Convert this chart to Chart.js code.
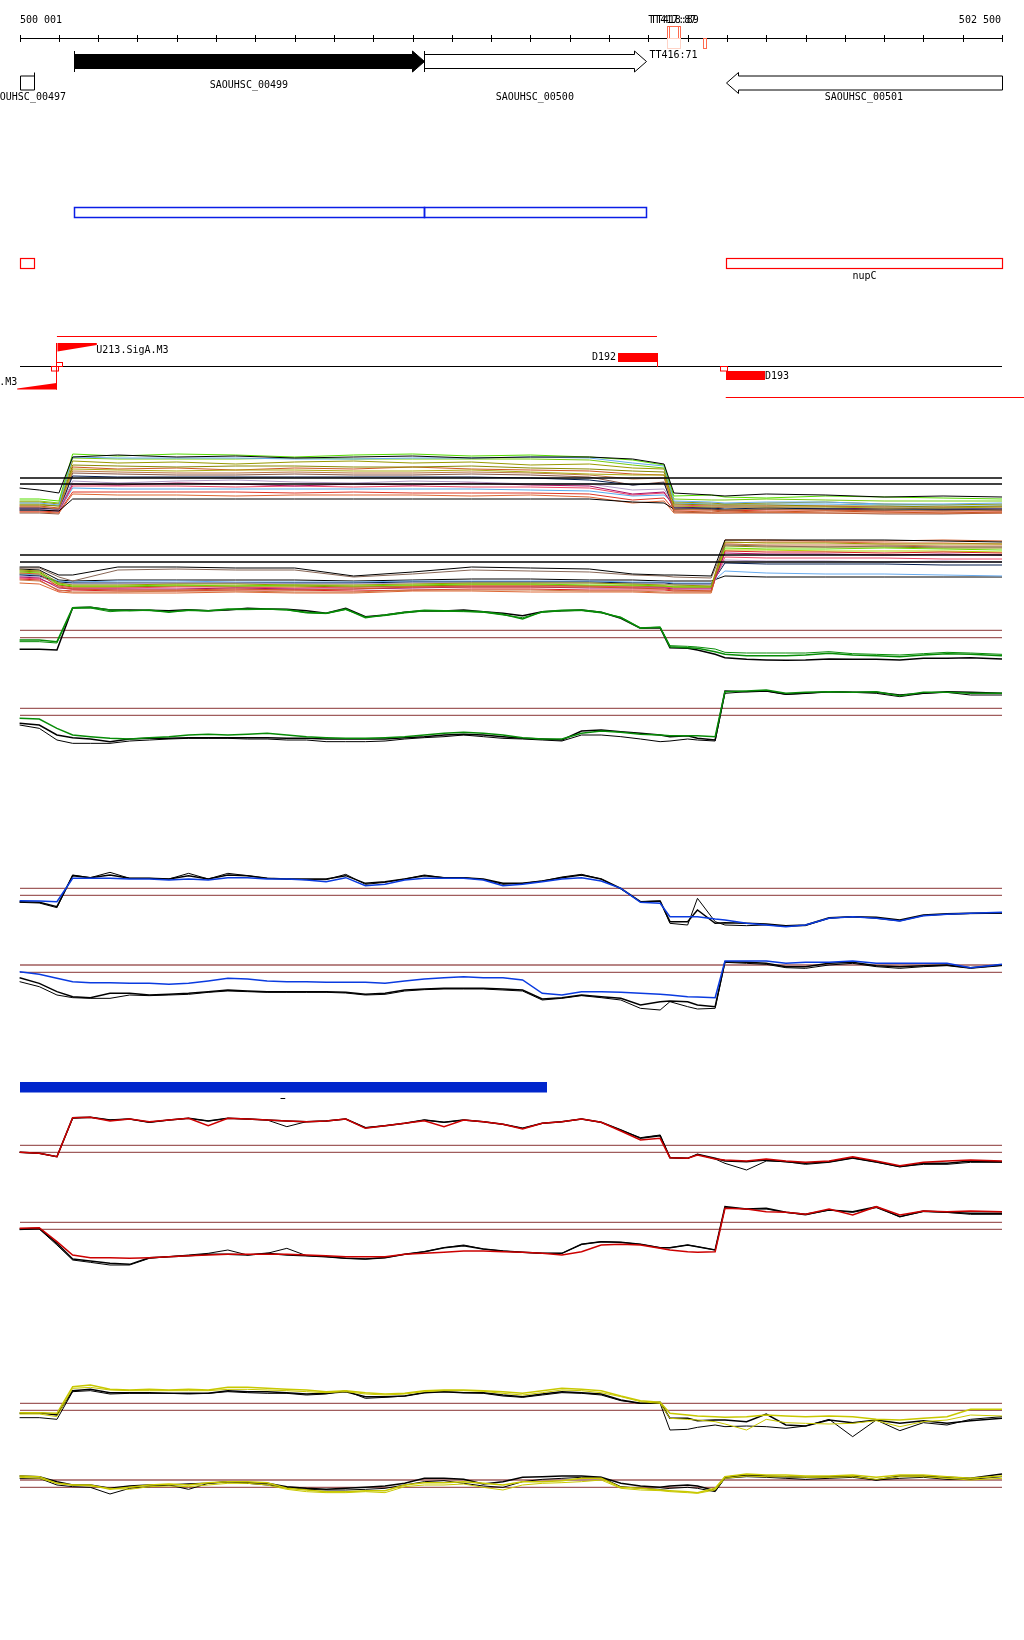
<!DOCTYPE html>
<html>
<head>
<meta charset="utf-8">
<script src="https://cdn.jsdelivr.net/npm/chart.js@4.4.1/dist/chart.umd.min.js"></script>
<style>
  html, body { margin: 0; padding: 0; background: #fff; }
  #wrap { width: 1024px; height: 1640px; }
</style>
</head>
<body>
<div id="wrap"><canvas id="browser" width="1024" height="1640"></canvas></div>
<script>
// ---- view window (bp) ----
const VIEW_START = 500001;
const VIEW_END = 502500;
const rulerStep = 100;

// ---- annotation data ----
const geneNames   = ['SAOUHSC_00497', 'SAOUHSC_00499', 'SAOUHSC_00500', 'SAOUHSC_00501'];
const geneStarts  = [499900, 500138, 501029, 501797];
const geneEnds    = [500036, 501029, 501593, 502700];
const geneStrands = ['-', '+', '+', '-'];
const geneFilled  = [false, true, false, false];
const geneLabelRow = [1, 0, 1, 1];

const termNames   = ['TT417:87', 'TT418:89', 'TT416:71', ''];
const termStarts  = [501647, 501653, 501647, 501738];
const termEnds    = [501675, 501681, 501681, 501748];
const termStrands = ['+', '+', '-', '-'];
const termScores  = [87, 89, 71, 80];

const operonStarts = [500138, 501029];
const operonEnds   = [501029, 501593];

const regulonNames  = ['', 'nupC'];
const regulonStarts = [499900, 501797];
const regulonEnds   = [500036, 502700];

const transcriptStarts  = [500095, 501797];
const transcriptEnds    = [501622, 502700];
const transcriptStrands = ['+', '-'];

const promoterNames   = ['U213.SigA.M3', 'U212.SigA.M3'];
const promoterPos     = [500092, 500092];
const promoterStrands = ['+', '-'];
const promoterLen = 100;

const tssNames   = ['D192', 'D193'];
const tssStarts  = [501523, 501797];
const tssEnds    = [501622, 501897];
const tssStrands = ['+', '-'];

const segmentStarts = [500001];
const segmentEnds   = [501341];
const markStarts = [500664];
const markEnds   = [500676];

// ---- multi-sample tracks (coarse probes) ----
const multiPos = [500000, 500050, 500100, 500135, 500250, 500400, 500550, 500700, 500850, 501000, 501150, 501300,
                  501450, 501560, 501640, 501665, 501760, 501795, 501900, 502050, 502200, 502350, 502500];

const fwdSamples = [
  [27, 25, 22, 58, 60, 58, 59, 57, 58, 59, 57, 58, 58, 56, 51, 22, 20, 19, 21, 20, 18, 19, 18],
  [16, 16, 14, 61, 59, 61, 60, 58, 60, 61, 59, 60, 58, 55, 50, 19, 20, 18, 17, 19, 18, 17, 16],
  [12, 12, 10, 58, 57, 57, 57, 56, 56, 57, 57, 58, 57, 52, 49, 14, 13, 12, 13, 13, 11, 11, 12],
  [13, 13, 11, 54, 52, 53, 51, 53, 54, 52, 53, 50, 51, 47, 46, 13, 12, 11, 12, 13, 11, 10, 11],
  [10, 10, 9, 50, 49, 48, 49, 49, 48, 48, 49, 47, 46, 44, 43, 11, 10, 10, 10, 9, 9, 8, 9],
  [11, 11, 9, 46, 45, 44, 45, 45, 44, 44, 45, 43, 41, 40, 40, 9, 8, 8, 8, 8, 7, 7, 8],
  [9, 9, 7, 48, 46, 47, 45, 47, 46, 48, 46, 45, 44, 41, 40, 4, 3, 4, 3, 4, 3, 2, 3],
  [8, 8, 6, 44, 43, 42, 42, 43, 42, 42, 43, 42, 40, 36, 37, 6, 5, 5, 6, 5, 5, 4, 5],
  [7, 7, 6, 39, 38, 38, 38, 38, 38, 38, 38, 37, 35, 30, 32, 7, 7, 6, 7, 6, 6, 6, 6],
  [5, 5, 4, 16, 16, 16, 16, 16, 16, 16, 16, 16, 16, 13, 12, 6, 6, 5, 6, 6, 5, 5, 5],
  [6, 6, 5, 34, 32, 34, 35, 33, 32, 34, 33, 31, 31, 25, 26, 9, 8, 9, 8, 7, 8, 7, 7],
  [7, 7, 5, 31, 30, 32, 31, 29, 31, 30, 32, 30, 29, 21, 23, 8, 7, 8, 8, 6, 7, 6, 6],
  [6, 6, 4, 29, 29, 29, 28, 29, 28, 29, 28, 28, 27, 20, 22, 10, 9, 9, 9, 9, 8, 8, 8],
  [5, 5, 4, 27, 26, 26, 26, 26, 26, 26, 26, 25, 24, 19, 20, 12, 11, 11, 11, 11, 10, 10, 10],
  [4, 4, 3, 23, 23, 23, 23, 22, 23, 22, 22, 22, 21, 15, 17, 5, 5, 4, 5, 5, 4, 4, 4],
  [3, 3, 2, 21, 20, 20, 19, 20, 20, 20, 19, 20, 18, 12, 14, 2, 2, 2, 3, 2, 2, 2, 2],
  [2, 2, 1, 42, 41, 40, 40, 41, 40, 40, 41, 40, 38, 30, 33, 3, 2, 2, 2, 2, 1, 1, 2],
  [14, 14, 12, 57, 56, 56, 56, 57, 56, 56, 56, 56, 55, 50, 47, 16, 15, 15, 16, 15, 14, 14, 14]
];
const fwdColors = ['#000000', '#55dd00', '#66aaee', '#999900', '#888800', '#aaaa11', '#cc5522', '#bb7744', '#001a4d',
                   '#000000', '#b09cc8', '#aa1166', '#ee4466', '#55aaee', '#dd3322', '#dd6633', '#885544', '#77cc11'];
const fwdCutoffs = [37, 31];

const revSamples = [
  [28, 28, 20, 20, 28, 28, 27, 27, 19, 23, 28, 27, 26, 21, 20, 20, 19, 55, 55, 55, 55, 54, 53],
  [27, 27, 18, 14, 25, 26, 25, 25, 18, 21, 25, 24, 23, 20, 19, 18, 17, 50, 49, 48, 49, 48, 48],
  [25, 24, 12, 10, 10, 11, 11, 10, 10, 11, 12, 12, 12, 11, 10, 10, 9, 53, 52, 52, 51, 51, 51],
  [22, 21, 8, 6, 5, 5, 6, 5, 6, 8, 8, 8, 8, 7, 6, 5, 4, 55, 55, 54, 54, 55, 54],
  [23, 22, 11, 9, 9, 10, 9, 10, 9, 10, 11, 11, 10, 10, 9, 8, 8, 47, 46, 46, 47, 46, 45],
  [18, 17, 7, 6, 6, 6, 7, 6, 6, 7, 8, 8, 7, 7, 7, 6, 6, 42, 41, 41, 40, 41, 40],
  [17, 16, 9, 7, 7, 8, 8, 7, 8, 8, 9, 9, 9, 8, 8, 7, 7, 38, 37, 37, 37, 36, 36],
  [19, 18, 12, 11, 11, 12, 12, 11, 11, 12, 12, 12, 12, 11, 11, 10, 10, 35, 34, 34, 33, 34, 33],
  [20, 19, 13, 12, 12, 12, 12, 12, 12, 13, 13, 13, 13, 12, 12, 11, 11, 32, 31, 31, 31, 30, 30],
  [21, 20, 14, 13, 14, 14, 13, 13, 13, 14, 14, 14, 14, 13, 13, 12, 12, 24, 22, 21, 21, 20, 19],
  [15, 14, 5, 3, 3, 4, 4, 3, 3, 5, 5, 5, 4, 4, 3, 3, 3, 51, 50, 50, 50, 49, 49],
  [16, 15, 4, 5, 4, 4, 5, 5, 4, 5, 6, 6, 5, 5, 5, 4, 4, 44, 43, 43, 42, 43, 42],
  [24, 23, 10, 8, 8, 9, 9, 9, 8, 9, 10, 10, 9, 9, 8, 8, 8, 49, 48, 48, 48, 47, 47],
  [26, 25, 15, 14, 15, 15, 15, 15, 14, 15, 16, 16, 15, 15, 14, 14, 14, 19, 18, 18, 18, 18, 18],
  [21, 20, 10, 8, 8, 9, 8, 8, 8, 9, 10, 10, 9, 9, 9, 8, 8, 45, 45, 44, 44, 44, 43],
  [12, 11, 3, 2, 2, 2, 3, 2, 2, 4, 4, 3, 3, 3, 2, 2, 2, 52, 53, 53, 52, 52, 51]
];
const revColors = ['#000000', '#886655', '#999900', '#cc5522', '#66dd00', '#aa1166', '#ee4466', '#b09cc8',
                   '#001a4d', '#66aaee', '#cc7744', '#dd2222', '#888800', '#000000', '#bbcc00', '#dd6633'];
const revCutoffs = [40, 33];

// ---- single-condition tracks (probe positions shared) ----
const probePos = [500000, 500050, 500095, 500135, 500180, 500230, 500280, 500330, 500380, 500430, 500480, 500530,
                  500580, 500630, 500680, 500730, 500780, 500830, 500880, 500930, 500980, 501030, 501080, 501130,
                  501180, 501230, 501280, 501330, 501380, 501430, 501480, 501530, 501580, 501630, 501655, 501700,
                  501725, 501770, 501795, 501850, 501900, 501950, 502000, 502060, 502120, 502180, 502240, 502300,
                  502360, 502420, 502500];

// condition 1 (green)
const c1FwdRef   = [77, 77, 75, 202, 203, 195, 195, 194, 193, 196, 193, 195, 200, 198, 197, 193, 185, 200, 175, 180, 188, 193, 192, 195, 190, 185, 178, 190, 193, 195, 188, 170, 140, 142, 82, 80, 75, 62, 52, 47, 45, 44, 45, 48, 47, 47, 45, 50, 50, 52, 48];
const c1FwdA     = [105, 105, 100, 202, 203, 195, 193, 195, 188, 195, 193, 198, 198, 198, 196, 188, 185, 198, 172, 180, 188, 194, 193, 192, 190, 182, 168, 190, 194, 195, 188, 172, 140, 143, 85, 82, 80, 70, 62, 58, 58, 58, 60, 65, 60, 58, 55, 60, 64, 62, 58];
const c1FwdB     = [100, 100, 96, 200, 201, 190, 194, 193, 190, 193, 192, 196, 196, 197, 195, 186, 184, 196, 174, 178, 186, 192, 191, 190, 188, 180, 172, 188, 192, 193, 186, 174, 142, 144, 88, 86, 84, 78, 68, 66, 66, 66, 66, 70, 64, 62, 60, 64, 68, 66, 62];
const c1FwdCutoffs = [134, 112];
const c1RevA     = [100, 98, 70, 50, 45, 40, 38, 42, 45, 50, 52, 50, 52, 55, 50, 45, 42, 40, 40, 42, 45, 50, 55, 58, 55, 50, 42, 38, 38, 55, 62, 58, 52, 50, 48, 48, 48, 45, 180, 182, 185, 175, 178, 180, 178, 180, 168, 178, 178, 175, 175];
const c1RevRef   = [85, 80, 50, 42, 38, 30, 38, 40, 40, 42, 42, 42, 42, 42, 40, 40, 38, 38, 38, 38, 42, 45, 50, 52, 50, 45, 40, 38, 35, 62, 65, 60, 55, 50, 45, 48, 40, 35, 182, 180, 182, 172, 175, 180, 178, 178, 170, 175, 180, 178, 175];
const c1RevRef2  = [80, 70, 35, 25, 25, 25, 32, 35, 38, 40, 40, 40, 38, 38, 35, 35, 30, 30, 30, 32, 38, 42, 45, 50, 45, 40, 38, 35, 32, 50, 50, 45, 38, 30, 32, 38, 35, 32, 175, 180, 182, 172, 175, 180, 178, 175, 165, 175, 178, 170, 170];
const c1RevCutoffs = [130, 109];

// condition 2 (blue)
const c2FwdRef   = [100, 98, 85, 178, 172, 180, 170, 170, 168, 178, 168, 180, 178, 170, 168, 168, 168, 178, 155, 160, 168, 178, 172, 172, 168, 155, 155, 162, 172, 180, 168, 140, 100, 102, 40, 40, 75, 35, 37, 35, 33, 28, 30, 52, 55, 53, 45, 60, 64, 65, 67];
const c2FwdA     = [103, 102, 100, 170, 170, 170, 168, 168, 165, 168, 165, 172, 172, 168, 168, 165, 160, 172, 148, 152, 165, 170, 170, 170, 165, 148, 152, 160, 168, 172, 162, 140, 98, 95, 55, 55, 55, 48, 45, 35, 30, 25, 30, 50, 55, 50, 42, 58, 62, 65, 68];
const c2FwdRef2  = [98, 96, 82, 180, 172, 188, 170, 170, 168, 185, 168, 185, 178, 170, 168, 166, 166, 182, 152, 158, 168, 180, 172, 172, 166, 152, 155, 162, 174, 182, 168, 138, 100, 102, 35, 30, 110, 40, 30, 28, 30, 26, 28, 50, 55, 50, 42, 58, 62, 64, 65];
const c2FwdCutoffs = [140, 119];
const c2RevA     = [130, 122, 110, 100, 97, 97, 95, 95, 92, 95, 102, 110, 108, 102, 100, 100, 98, 98, 98, 95, 102, 108, 112, 115, 112, 112, 105, 65, 60, 70, 70, 68, 65, 62, 60, 55, 54, 52, 162, 162, 162, 155, 158, 158, 162, 155, 155, 155, 155, 142, 152];
const c2RevRef   = [112, 95, 70, 55, 52, 65, 65, 60, 62, 65, 70, 75, 72, 70, 70, 70, 70, 68, 62, 65, 75, 78, 80, 80, 80, 78, 75, 48, 52, 60, 55, 50, 30, 40, 42, 40, 30, 25, 160, 158, 155, 145, 145, 155, 158, 148, 145, 148, 150, 142, 150];
const c2RevRef2  = [100, 85, 60, 52, 50, 50, 60, 58, 60, 62, 68, 72, 70, 68, 68, 68, 68, 66, 60, 62, 72, 76, 78, 78, 78, 75, 72, 45, 50, 58, 52, 45, 20, 15, 40, 25, 18, 20, 158, 155, 152, 142, 140, 150, 155, 145, 140, 145, 148, 140, 148];
const c2RevCutoffs = [150, 128];

// condition 3 (red)
const c3FwdRef   = [98, 95, 85, 202, 203, 195, 198, 188, 195, 200, 192, 200, 198, 195, 192, 190, 192, 198, 172, 178, 185, 195, 188, 195, 190, 182, 170, 185, 190, 198, 188, 165, 140, 148, 82, 80, 92, 80, 72, 70, 75, 70, 65, 70, 82, 70, 55, 65, 65, 72, 70];
const c3FwdA     = [98, 95, 85, 202, 203, 192, 198, 190, 195, 200, 178, 200, 198, 195, 192, 190, 192, 198, 170, 178, 185, 193, 175, 195, 190, 182, 168, 185, 190, 198, 188, 162, 135, 140, 82, 80, 90, 78, 75, 72, 78, 72, 68, 72, 85, 72, 58, 68, 72, 75, 72];
const c3FwdRef2  = [98, 95, 85, 200, 203, 195, 198, 188, 195, 200, 192, 200, 198, 195, 175, 190, 192, 198, 172, 178, 185, 195, 188, 195, 190, 182, 170, 185, 190, 198, 188, 165, 142, 150, 82, 80, 92, 78, 65, 45, 72, 70, 62, 68, 80, 68, 55, 62, 62, 68, 68];
const c3FwdCutoffs = [119, 98];
const c3RevA     = [130, 132, 90, 50, 42, 42, 40, 42, 45, 48, 50, 52, 52, 52, 52, 50, 48, 45, 45, 45, 52, 55, 58, 62, 62, 60, 58, 55, 50, 60, 80, 82, 80, 70, 65, 60, 58, 60, 190, 188, 180, 178, 172, 188, 170, 195, 170, 182, 180, 182, 180];
const c3RevRef   = [128, 130, 85, 38, 32, 25, 22, 42, 45, 48, 52, 52, 50, 55, 50, 48, 45, 40, 38, 42, 52, 60, 72, 78, 68, 62, 58, 55, 55, 82, 90, 88, 82, 72, 72, 80, 75, 65, 195, 188, 190, 178, 172, 185, 180, 195, 165, 182, 178, 175, 175];
const c3RevRef2  = [126, 128, 80, 35, 28, 20, 20, 40, 45, 50, 55, 65, 50, 55, 70, 48, 45, 40, 38, 42, 52, 60, 72, 80, 68, 62, 58, 55, 55, 82, 90, 88, 82, 72, 72, 80, 75, 65, 192, 188, 188, 178, 170, 185, 178, 192, 165, 180, 178, 172, 172];
const c3RevCutoffs = [148, 127];

// condition 4 (yellow)
const c4FwdA     = [112, 112, 110, 190, 195, 182, 180, 182, 180, 182, 180, 188, 188, 185, 182, 180, 175, 178, 172, 168, 170, 178, 180, 180, 178, 175, 170, 178, 185, 182, 178, 162, 148, 143, 110, 105, 102, 100, 98, 100, 105, 102, 100, 102, 100, 92, 90, 95, 100, 122, 122];
const c4FwdB     = [108, 108, 100, 185, 188, 180, 178, 178, 178, 178, 178, 182, 182, 180, 178, 175, 172, 175, 168, 165, 168, 175, 178, 178, 176, 170, 165, 172, 180, 178, 172, 160, 145, 140, 95, 92, 90, 85, 78, 60, 92, 82, 80, 78, 80, 88, 70, 85, 90, 105, 102];
const c4FwdRef   = [110, 112, 105, 178, 182, 172, 172, 172, 170, 170, 170, 178, 175, 175, 172, 168, 170, 175, 160, 160, 162, 172, 175, 172, 172, 165, 160, 168, 175, 172, 168, 150, 140, 143, 95, 95, 88, 90, 90, 85, 108, 75, 72, 90, 82, 90, 80, 88, 80, 88, 95];
const c4FwdRef2  = [97, 97, 92, 175, 178, 168, 170, 170, 170, 168, 170, 175, 172, 170, 170, 165, 168, 178, 155, 158, 162, 172, 175, 172, 170, 162, 158, 165, 172, 170, 165, 148, 140, 140, 60, 62, 68, 75, 70, 72, 70, 65, 72, 92, 40, 90, 58, 82, 75, 92, 100];
const c4FwdCutoffs = [140, 119];
const c4RevA     = [82, 80, 60, 55, 55, 42, 48, 55, 58, 55, 62, 65, 65, 62, 45, 40, 35, 35, 38, 38, 55, 62, 62, 65, 60, 55, 65, 65, 68, 75, 75, 48, 45, 40, 38, 35, 32, 45, 80, 88, 85, 85, 82, 82, 85, 78, 85, 85, 80, 75, 82];
const c4RevB     = [78, 75, 60, 55, 52, 45, 42, 50, 52, 50, 55, 60, 60, 55, 42, 35, 32, 32, 35, 32, 50, 55, 55, 58, 48, 40, 55, 60, 62, 65, 70, 45, 40, 38, 35, 32, 30, 40, 75, 82, 80, 80, 78, 78, 80, 72, 80, 80, 75, 70, 75];
const c4RevRef   = [82, 80, 65, 55, 55, 45, 52, 55, 55, 58, 60, 65, 62, 60, 50, 45, 42, 45, 48, 52, 60, 75, 75, 72, 58, 65, 78, 80, 82, 82, 78, 60, 52, 48, 52, 55, 52, 38, 78, 85, 82, 80, 78, 80, 82, 70, 82, 82, 78, 75, 88];
const c4RevRef2  = [75, 75, 55, 50, 48, 28, 45, 50, 55, 42, 60, 65, 60, 55, 48, 42, 40, 40, 42, 45, 55, 65, 68, 60, 52, 48, 65, 72, 75, 78, 78, 50, 45, 42, 45, 48, 45, 35, 75, 80, 78, 75, 72, 75, 78, 70, 75, 78, 72, 72, 80];
const c4RevCutoffs = [70, 48];

// ---- layout ----
const W = 1024, H = 1640;
const PLOT_LEFT = 20, PLOT_RIGHT = 1002;
const bpPerPx = (VIEW_END - VIEW_START) / (PLOT_RIGHT - PLOT_LEFT);
const FONT = '10px "DejaVu Sans Mono", "Liberation Mono", monospace';
const CUTOFF_COLOR = '#a05c5c';

// each track gets its own hidden y axis: value 0 sits at zeroPx, unitsPerPx values per pixel
function trackAxis(zeroPx, unitsPerPx) {
  return { type: 'linear', display: false, min: -(H - zeroPx) * unitsPerPx, max: zeroPx * unitsPerPx };
}

function line(xs, ys, axis, color, width) {
  return {
    data: xs.map((x, i) => ({ x: x, y: ys[i] })),
    yAxisID: axis, borderColor: color, borderWidth: width,
    pointRadius: 0, fill: false, tension: 0
  };
}
function cutoffs(values, axis, color, width) {
  return values.map(v => line([VIEW_START, VIEW_END], [v, v], axis, color, width));
}

const datasets = [];
// multi-sample tracks (cutoff lines on top)
datasets.push(...cutoffs(fwdCutoffs, 'yA', '#000000', 1.5));
fwdSamples.forEach((s, i) => datasets.push(line(multiPos, s, 'yA', fwdColors[i], 1)));
datasets.push(...cutoffs(revCutoffs, 'yB', '#000000', 1.5));
revSamples.forEach((s, i) => datasets.push(line(multiPos, s, 'yB', revColors[i], 1)));

const GREEN = '#078c07', BLUE = '#0a3be0', RED = '#cc0000', YELLOW = '#c8c800';
datasets.push(
  line(probePos, c1FwdA, 'yC1', GREEN, 1.5), line(probePos, c1FwdB, 'yC1', GREEN, 1),
  line(probePos, c1FwdRef, 'yC1', '#000', 1.5),
  line(probePos, c1RevA, 'yC2', GREEN, 1.5), line(probePos, c1RevRef, 'yC2', '#000', 1.5),
  line(probePos, c1RevRef2, 'yC2', '#000', 1),
  line(probePos, c2FwdA, 'yD1', BLUE, 1.5), line(probePos, c2FwdRef, 'yD1', '#000', 1.5),
  line(probePos, c2FwdRef2, 'yD1', '#000', 1),
  line(probePos, c2RevA, 'yD2', BLUE, 1.5), line(probePos, c2RevRef, 'yD2', '#000', 1.5),
  line(probePos, c2RevRef2, 'yD2', '#000', 1),
  line(probePos, c3FwdA, 'yE1', RED, 1.5), line(probePos, c3FwdRef, 'yE1', '#000', 1.5),
  line(probePos, c3FwdRef2, 'yE1', '#000', 1),
  line(probePos, c3RevA, 'yE2', RED, 1.5), line(probePos, c3RevRef, 'yE2', '#000', 1.5),
  line(probePos, c3RevRef2, 'yE2', '#000', 1),
  line(probePos, c4FwdA, 'yF1', YELLOW, 1.5), line(probePos, c4FwdB, 'yF1', YELLOW, 1),
  line(probePos, c4FwdRef, 'yF1', '#000', 1.5), line(probePos, c4FwdRef2, 'yF1', '#000', 1),
  line(probePos, c4RevA, 'yF2', YELLOW, 1.5), line(probePos, c4RevB, 'yF2', YELLOW, 1),
  line(probePos, c4RevRef, 'yF2', '#000', 1.5), line(probePos, c4RevRef2, 'yF2', '#000', 1)
);
datasets.push(
  ...cutoffs(c1FwdCutoffs, 'yC1', CUTOFF_COLOR, 1.3), ...cutoffs(c1RevCutoffs, 'yC2', CUTOFF_COLOR, 1.3),
  ...cutoffs(c2FwdCutoffs, 'yD1', CUTOFF_COLOR, 1.3), ...cutoffs(c2RevCutoffs, 'yD2', CUTOFF_COLOR, 1.3),
  ...cutoffs(c3FwdCutoffs, 'yE1', CUTOFF_COLOR, 1.3), ...cutoffs(c3RevCutoffs, 'yE2', CUTOFF_COLOR, 1.3),
  ...cutoffs(c4FwdCutoffs, 'yF1', CUTOFF_COLOR, 1.3), ...cutoffs(c4RevCutoffs, 'yF2', CUTOFF_COLOR, 1.3)
);

// annotation rows drawn with the x scale
const annotationTracks = {
  id: 'annotationTracks',
  afterDraw(chart) {
    const ctx = chart.ctx;
    const xs = chart.scales.x;
    const px = bp => xs.getPixelForValue(bp);
    const clipS = bp => Math.max(bp, VIEW_START);
    const clipE = bp => Math.min(bp, VIEW_END);
    const hline = (x1, x2, y, color, w) => {
      ctx.strokeStyle = color; ctx.lineWidth = w || 1;
      ctx.beginPath(); ctx.moveTo(x1, y); ctx.lineTo(x2, y); ctx.stroke();
    };
    const vline = (x, y1, y2, color, w) => {
      ctx.strokeStyle = color; ctx.lineWidth = w || 1;
      ctx.beginPath(); ctx.moveTo(x, y1); ctx.lineTo(x, y2); ctx.stroke();
    };
    const text = (str, x, y, align) => {
      ctx.fillStyle = '#000'; ctx.font = FONT; ctx.textAlign = align || 'center';
      ctx.textBaseline = 'middle'; ctx.fillText(str, x, y);
    };

    ctx.save();

    // ruler
    const rulerY = 38.5;
    hline(px(VIEW_START), px(VIEW_END), rulerY, '#000', 1);
    for (let t = Math.ceil((VIEW_START - 1) / rulerStep) * rulerStep; t <= VIEW_END; t += rulerStep) {
      const x = Math.round(px(t)) + 0.5;
      vline(x, 35, 42, '#000', 1);
    }
    text('500 001', px(VIEW_START), 20, 'left');
    text('502 500', px(VIEW_END) - 1, 20, 'right');

    // terminators
    termNames.forEach((name, i) => {
      const x1 = Math.round(px(termStarts[i])) + 0.5, x2 = Math.round(px(termEnds[i])) + 0.5;
      const plus = termStrands[i] === '+';
      ctx.strokeStyle = termScores[i] >= 75 ? '#ff6a4d' : '#ffd3c6';
      ctx.lineWidth = 1;
      if (plus) ctx.strokeRect(x1, 26.5, x2 - x1, 12);
      else ctx.strokeRect(x1, 38.5, x2 - x1, 10);
      if (name) {
        const cx = (px(termStarts[i]) + px(termEnds[i])) / 2;
        text(name, cx, plus ? 20 : 55);
      }
    });

    // genes
    const rows = { '+': 61.5, '-': 83 };
    const bodyH = 7, headH = 10.5, headL = 12;
    const labelYs = [85, 97];
    geneNames.forEach((name, i) => {
      const plus = geneStrands[i] === '+';
      const yc = rows[geneStrands[i]];
      const x1 = Math.round(px(clipS(geneStarts[i]))) + 0.5;
      const x2 = Math.round(px(clipE(geneEnds[i]))) + 0.5;
      const headIn = plus ? geneEnds[i] <= VIEW_END : geneStarts[i] >= VIEW_START;
      ctx.beginPath();
      if (plus) {
        const xb = headIn ? x2 - headL : x2;
        ctx.moveTo(x1, yc - bodyH); ctx.lineTo(xb, yc - bodyH);
        if (headIn) {
          ctx.lineTo(xb, yc - headH); ctx.lineTo(x2, yc); ctx.lineTo(xb, yc + headH); ctx.lineTo(xb, yc + bodyH);
        } else ctx.lineTo(x2, yc + bodyH);
        ctx.lineTo(x1, yc + bodyH);
      } else {
        const xb = headIn ? x1 + headL : x1;
        ctx.moveTo(x2, yc - bodyH); ctx.lineTo(xb, yc - bodyH);
        if (headIn) {
          ctx.lineTo(xb, yc - headH); ctx.lineTo(x1, yc); ctx.lineTo(xb, yc + headH); ctx.lineTo(xb, yc + bodyH);
        } else ctx.lineTo(x1, yc + bodyH);
        ctx.lineTo(x2, yc + bodyH);
      }
      ctx.closePath();
      if (geneFilled[i]) { ctx.fillStyle = '#000'; ctx.fill(); }
      ctx.strokeStyle = '#000'; ctx.lineWidth = 1; ctx.stroke();
      // start tick
      if (plus && geneStarts[i] >= VIEW_START) vline(x1, yc - headH, yc + headH, '#000', 1);
      if (!plus && geneEnds[i] <= VIEW_END) vline(x2, yc - headH, yc + bodyH, '#000', 1);
      text(name, (px(clipS(geneStarts[i])) + px(clipE(geneEnds[i]))) / 2, labelYs[geneLabelRow[i]]);
    });

    // operon boxes
    ctx.strokeStyle = '#0a1ee6'; ctx.lineWidth = 1.5;
    operonStarts.forEach((s, i) => {
      const x1 = Math.round(px(s)) + 0.5, x2 = Math.round(px(operonEnds[i])) + 0.5;
      ctx.strokeRect(x1, 207.5, x2 - x1, 10);
    });

    // regulon boxes
    regulonNames.forEach((name, i) => {
      const x1 = Math.round(px(clipS(regulonStarts[i]))) + 0.5, x2 = Math.round(px(clipE(regulonEnds[i]))) + 0.5;
      ctx.strokeStyle = '#ff0000'; ctx.lineWidth = 1.2;
      ctx.strokeRect(x1, 258.5, x2 - x1, 10);
      if (name) text(name, (x1 + x2) / 2, 276);
    });

    // transcripts
    transcriptStarts.forEach((s, i) => {
      const y = transcriptStrands[i] === '+' ? 336.5 : 397.5;
      hline(px(s), px(transcriptEnds[i]), y, '#ff0000', 1.2);
    });

    // promoter row baseline
    hline(px(VIEW_START), px(VIEW_END), 366.5, '#000', 1.2);

    // promoters
    promoterNames.forEach((name, i) => {
      const x0 = Math.round(px(promoterPos[i])) + 0.5;
      const len = px(promoterPos[i] + promoterLen) - px(promoterPos[i]);
      ctx.fillStyle = '#ff0000';
      ctx.beginPath();
      if (promoterStrands[i] === '+') {
        ctx.moveTo(x0 + 1, 343); ctx.lineTo(x0 + 1 + len, 343); ctx.lineTo(x0 + 1 + len, 345); ctx.lineTo(x0 + 1, 351.5);
        ctx.closePath(); ctx.fill();
        ctx.strokeStyle = '#ff0000'; ctx.lineWidth = 1;
        ctx.strokeRect(x0, 362.5, 6, 4);
        text(name, x0 + len + 0.5, 350, 'left');
      } else {
        ctx.moveTo(x0, 389.5); ctx.lineTo(x0 - len, 389.5); ctx.lineTo(x0 - len, 388.5); ctx.lineTo(x0, 383);
        ctx.closePath(); ctx.fill();
        ctx.strokeStyle = '#ff0000'; ctx.lineWidth = 1;
        ctx.strokeRect(x0 - 5, 366.5, 7, 4.5);
        text(name, x0 - len, 382.5, 'right');
      }
      vline(x0, 343, 389.5, '#ff0000', 1);
    });

    // transcription start regions
    tssNames.forEach((name, i) => {
      const x1 = Math.round(px(tssStarts[i])), x2 = Math.round(px(tssEnds[i]));
      ctx.fillStyle = '#ff0000';
      if (tssStrands[i] === '+') {
        ctx.fillRect(x1, 353, x2 - x1, 9);
        vline(x2 + 0.5, 353, 367, '#ff0000', 1);
        text(name, x1 - 2, 357.5, 'right');
      } else {
        ctx.fillRect(x1, 371, x2 - x1, 9);
        ctx.strokeStyle = '#ff0000'; ctx.lineWidth = 1;
        ctx.strokeRect(x1 - 6 + 0.5, 366.5, 7, 4.5);
        text(name, x2, 376, 'left');
      }
    });

    // segment bar
    ctx.fillStyle = '#0026cc';
    segmentStarts.forEach((s, i) => {
      const x1 = Math.round(px(s)), x2 = Math.round(px(segmentEnds[i]));
      ctx.fillRect(x1, 1082, x2 - x1, 10.5);
    });
    markStarts.forEach((s, i) => hline(px(s), px(markEnds[i]), 1098.5, '#000', 1));

    ctx.restore();
  }
};

new Chart(document.getElementById('browser'), {
  type: 'line',
  data: { datasets: datasets },
  options: {
    responsive: false,
    animation: false,
    devicePixelRatio: 1,
    events: [],
    layout: { padding: 0 },
    plugins: { legend: { display: false }, tooltip: { enabled: false }, title: { display: false } },
    scales: {
      x: {
        type: 'linear', display: false,
        min: VIEW_START - PLOT_LEFT * bpPerPx,
        max: VIEW_START + (W - PLOT_LEFT) * bpPerPx
      },
      yA: trackAxis(515, 1),
      yB: trackAxis(595, 1),
      yC1: trackAxis(675, 3),
      yC2: trackAxis(751.67, 3),
      yD1: trackAxis(935, 3),
      yD2: trackAxis(1015, 3),
      yE1: trackAxis(1185, 3),
      yE2: trackAxis(1271.67, 3),
      yF1: trackAxis(1450, 3),
      yF2: trackAxis(1503.33, 3)
    }
  },
  plugins: [annotationTracks]
});
</script>
</body>
</html>
